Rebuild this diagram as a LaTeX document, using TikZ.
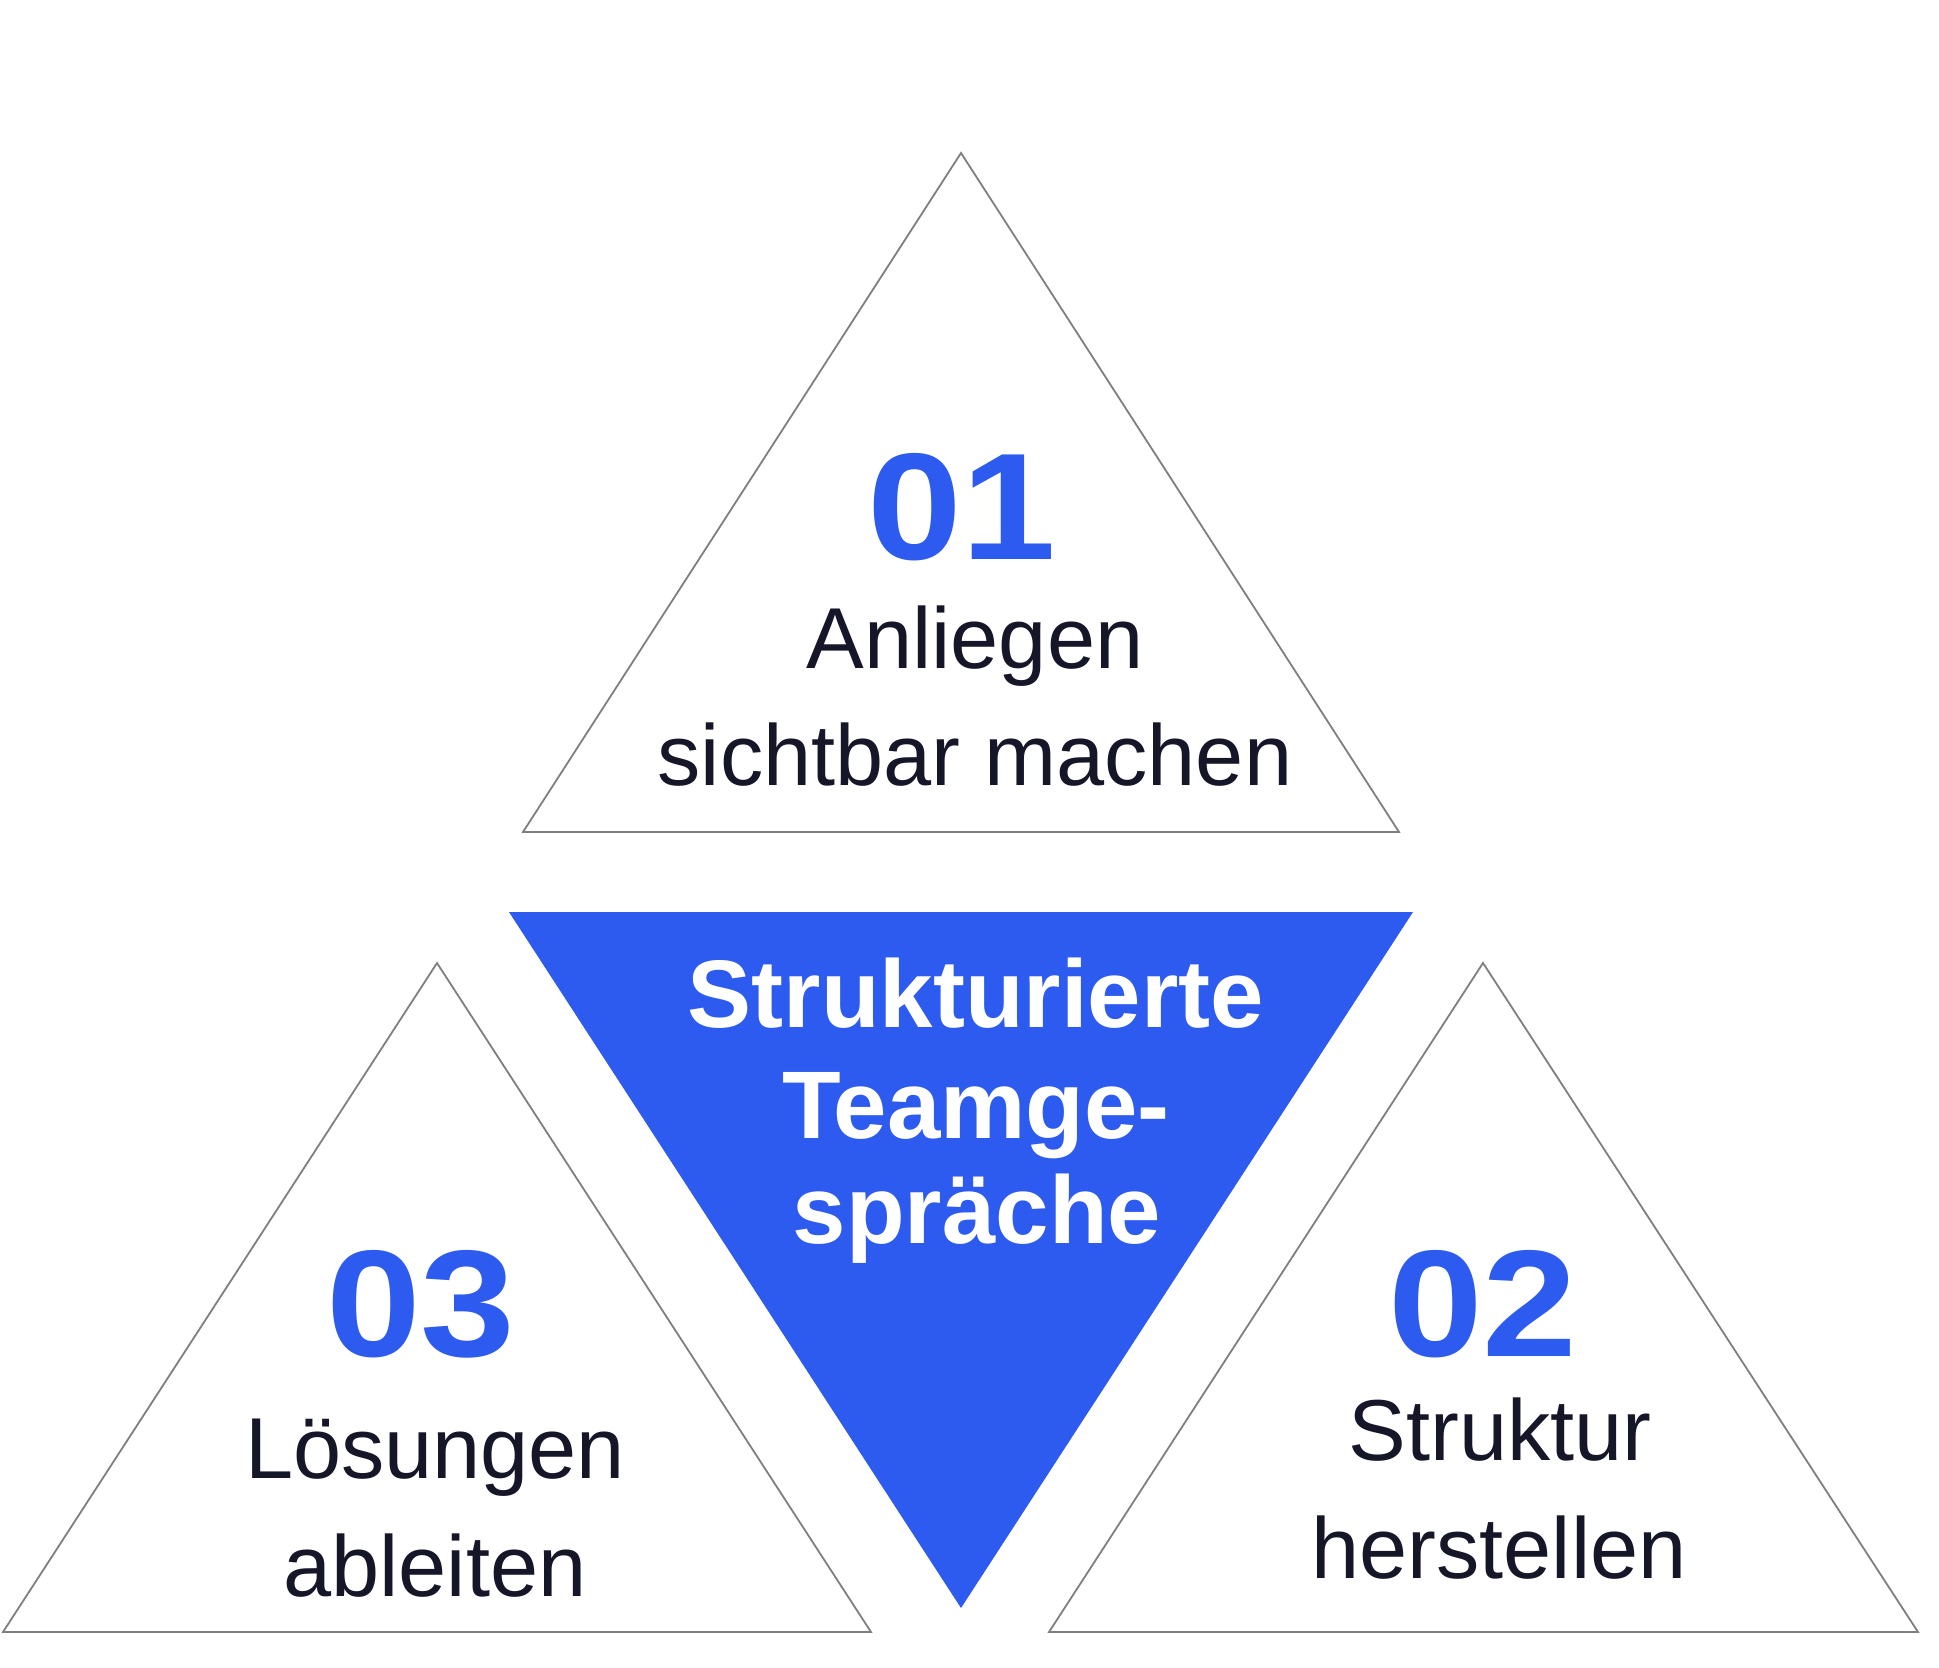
\documentclass[tikz,border=0pt]{standalone}
\usepackage{fontspec}
\setmainfont{Liberation Sans}
\newfontfamily\numfont[FakeStretch=1.12]{Liberation Sans}
\definecolor{teamblue}{HTML}{2D5BF0}
\definecolor{inkdark}{HTML}{161629}
\definecolor{edgegray}{HTML}{7F7F7F}
\tikzset{
  outline/.style={draw=edgegray, line width=1.8pt, fill=white},
  stepnum/.style={anchor=base, inner sep=0pt, text=teamblue, font=\numfont\fontsize{152}{152}\selectfont\bfseries},
  steptext/.style={anchor=base, inner sep=0pt, text=inkdark, font=\fontsize{86.5}{117}\selectfont},
  coretext/.style={anchor=base, inner sep=0pt, text=white, font=\fontsize{96}{108}\selectfont\bfseries},
}

\begin{document}
\begin{tikzpicture}[x=1pt, y=-1pt]
	%%%%% START %%%%%
	\useasboundingbox (0, 0) rectangle (1939, 1668);
	
	% three outlined triangles
	\draw[outline] (961, 153) -- (1399, 832) -- (523, 832) -- cycle;
	\draw[outline] (437, 963) -- (871, 1632) -- (3, 1632) -- cycle;
	\draw[outline] (1483, 963) -- (1918, 1632) -- (1049, 1632) -- cycle;
	
	% inverted centre triangle
	\fill[teamblue] (509, 912) -- (1413, 912) -- (961, 1608) -- cycle;
	
	% step 01
	\node[stepnum] (num01) at (962, 559) {01};
	\node[steptext] (anliegen) at (975, 668) {Anliegen};
	\node[steptext] (sichtbar) at (975, 785) {sichtbar machen};
	
	% step 02
	\node[stepnum] (num02) at (1483, 1356) {02};
	\node[steptext] (struktur) at (1500, 1460) {Struktur};
	\node[steptext] (herstellen) at (1499, 1578) {herstellen};
	
	% step 03
	\node[stepnum] (num03) at (421, 1356) {03};
	\node[steptext] (loesungen) at (435, 1478) {Lösungen};
	\node[steptext] (ableiten) at (435, 1596) {ableiten};
	
	% centre
	\node[coretext] (strukturiert) at (976, 1027) {Strukturierte};
	\node[coretext] (teamge) at (976, 1138) {Teamge-};
	\node[coretext] (spraeche) at (977, 1243) {spräche};
	
	%%%%% END %%%%%
\end{tikzpicture}
\end{document}
